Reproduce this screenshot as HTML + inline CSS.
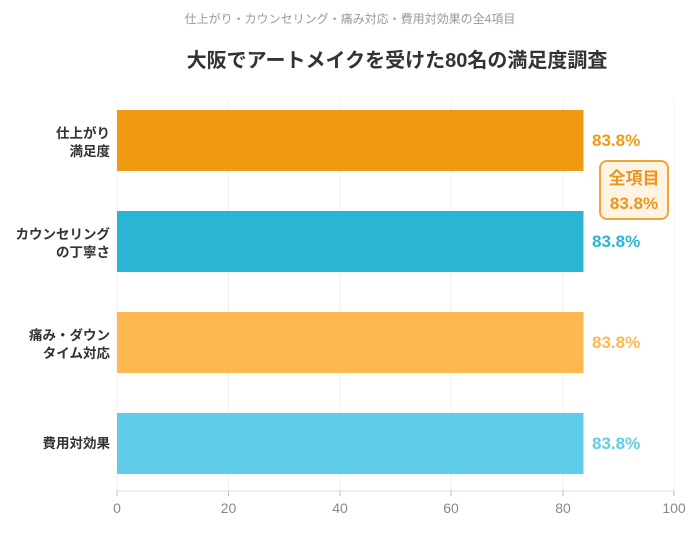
<!DOCTYPE html>
<html><head><meta charset="utf-8"><style>
html,body{margin:0;padding:0;background:#fff;}
body{width:700px;height:531px;overflow:hidden;font-family:"Liberation Sans","Noto Sans CJK JP",sans-serif;}
</style></head><body>
<svg width="700" height="531" xmlns="http://www.w3.org/2000/svg" style="font-family:'Liberation Sans','Noto Sans CJK JP',sans-serif">
<text x="350" y="23" text-anchor="middle" font-size="12" fill="#999">仕上がり・カウンセリング・痛み対応・費用対効果の全4項目</text>
<text x="397" y="67" text-anchor="middle" font-size="20" font-weight="bold" fill="#333">大阪でアートメイクを受けた80名の満足度調査</text>
<g stroke="#f0f0f0" stroke-width="1">
<line x1="228.5" y1="100" x2="228.5" y2="491"/>
<line x1="340" y1="100" x2="340" y2="491"/>
<line x1="451" y1="100" x2="451" y2="491"/>
<line x1="563" y1="100" x2="563" y2="491"/>
<line x1="674" y1="100" x2="674" y2="491"/>
<line x1="117" y1="100" x2="117" y2="491"/>
</g>
<rect x="117" y="110" width="466.5" height="61" fill="#f09a12"/>
<rect x="117" y="211" width="466.5" height="61" fill="#2bb5d4"/>
<rect x="117" y="312" width="466.5" height="61" fill="#fdb84f"/>
<rect x="117" y="413" width="466.5" height="61" fill="#5fcde8"/>
<g font-size="17" font-weight="bold">
<text x="592" y="146" fill="#f09a12">83.8%</text>
<text x="592" y="247" fill="#2bb5d4">83.8%</text>
<text x="592" y="348" fill="#fdb84f">83.8%</text>
<text x="592" y="449" fill="#5fcde8">83.8%</text>
</g>
<rect x="600" y="161" width="68" height="58" rx="7" fill="#fff3e4" stroke="#f0a43a" stroke-width="2"/>
<text x="634" y="184" text-anchor="middle" font-size="17" font-weight="bold" fill="#e8961e">全項目</text>
<text x="634" y="209" text-anchor="middle" font-size="17" font-weight="bold" fill="#e8961e">83.8%</text>
<g font-size="13.5" font-weight="bold" fill="#333" text-anchor="end">
<text x="110" y="138">仕上がり</text><text x="110" y="156">満足度</text>
<text x="110" y="239">カウンセリング</text><text x="110" y="257">の丁寧さ</text>
<text x="110" y="340">痛み・ダウン</text><text x="110" y="358">タイム対応</text>
<text x="110" y="448">費用対効果</text>
</g>
<line x1="117" y1="491" x2="674" y2="491" stroke="#ddd"/>
<g stroke="#bbb"><line x1="117" y1="491" x2="117" y2="496"/><line x1="228.5" y1="491" x2="228.5" y2="496"/><line x1="340" y1="491" x2="340" y2="496"/><line x1="451" y1="491" x2="451" y2="496"/><line x1="563" y1="491" x2="563" y2="496"/><line x1="674" y1="491" x2="674" y2="496"/></g>
<g font-size="14" fill="#888" text-anchor="middle">
<text x="117" y="513">0</text><text x="228.5" y="513">20</text><text x="340" y="513">40</text><text x="451" y="513">60</text><text x="563" y="513">80</text><text x="674" y="513">100</text>
</g>
</svg>
</body></html>
